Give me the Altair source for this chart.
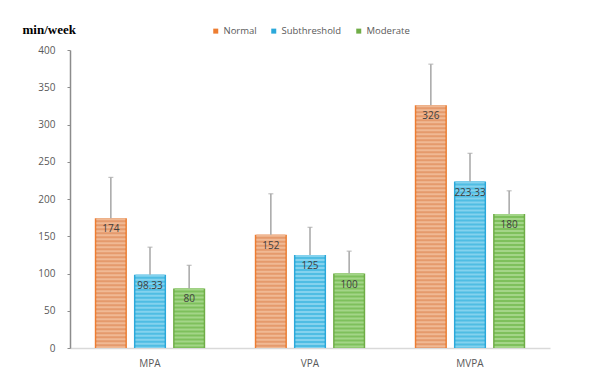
import altair as alt
import pandas as pd

categories = ["MPA", "VPA", "MVPA"]
groups = ["Normal", "Subthreshold", "Moderate"]
normal = [174, 152, 326]
subthreshold = [98.33, 125, 223.33]
moderate = [80, 100, 180]
err_normal = [55, 55, 55]
err_sub = [37, 37, 38]
err_mod = [31, 30, 31]
labels_normal = ["174", "152", "326"]
labels_sub = ["98.33", "125", "223.33"]
labels_mod = ["80", "100", "180"]
y_ticks = [0, 50, 100, 150, 200, 250, 300, 350, 400]

rows = []
for g, vals, errs, labs in [
    ("Normal", normal, err_normal, labels_normal),
    ("Subthreshold", subthreshold, err_sub, labels_sub),
    ("Moderate", moderate, err_mod, labels_mod),
]:
    for c, v, e, l in zip(categories, vals, errs, labs):
        rows.append({"cat": c, "group": g, "g2": g, "g3": g, "value": v,
                     "top": v + e, "label": l})
df = pd.DataFrame(rows)

border = ["#ED7D31", "#2BA8DA", "#70AD47"]
dark = ["#E59A6C", "#4FBDE3", "#7EC05C"]
light = ["#F0B994", "#84D2EE", "#A3D588"]

xaxis = alt.Axis(labelAngle=0, ticks=False, domainColor="#D9D9D9",
                 domainWidth=1.5, labelPadding=10, labelFontSize=10,
                 labelColor="#595959", labelFont="Open Sans")
xscale = alt.Scale(paddingInner=0.31, paddingOuter=0.155)
xs = alt.X("cat:N", sort=categories, title=None, scale=xscale, axis=xaxis)
xoff = alt.XOffset("group:N", sort=groups,
                   scale=alt.Scale(paddingInner=0.18, paddingOuter=0))
yscale = alt.Scale(domain=[0, 400])
yaxis = alt.Axis(values=y_ticks, grid=False, labelOverlap=False,
                 domainColor="#8C8C8C", domainWidth=1.5,
                 tickColor="#8C8C8C", tickSize=3, labelPadding=12,
                 labelFontSize=10, labelColor="#595959", labelFont="Open Sans",
                 title="min/week", titleAngle=0, titleX=-48, titleY=-17,
                 titleAlign="left", titleBaseline="alphabetic",
                 titleFont="Liberation Serif", titleFontSize=13,
                 titleFontWeight="bold", titleColor="#000000")


def yenc(field):
    return alt.Y(field, scale=yscale, axis=yaxis)


base = alt.Chart(df)

bars = base.mark_bar().encode(
    x=xs,
    xOffset=xoff,
    y=yenc("value:Q"),
    color=alt.Color("group:N", sort=groups,
                    scale=alt.Scale(domain=groups, range=border),
                    legend=alt.Legend(title=None, orient="none", direction="horizontal",
                                      legendX=141, legendY=-24, symbolType="square",
                                      symbolSize=25, labelFontSize=9.5,
                                      labelOffset=3, labelColor="#595959",
                                      labelFont="Open Sans", columnPadding=12)),
)

fill_rule = base.mark_rule(strokeWidth=29, strokeCap="butt").encode(
    x=xs,
    xOffset=xoff,
    y=yenc("value:Q"),
    y2=alt.datum(0),
    stroke=alt.Stroke("g2:N", sort=groups,
                      scale=alt.Scale(domain=groups, range=dark), legend=None),
)

stripes = base.mark_rule(strokeWidth=29, strokeDash=[2, 2], strokeCap="butt").encode(
    x=xs,
    xOffset=xoff,
    y=yenc("value:Q"),
    y2=alt.datum(0),
    stroke=alt.Stroke("g3:N", sort=groups,
                      scale=alt.Scale(domain=groups, range=light), legend=None),
)

err = base.mark_rule(color="#A6A6A6", strokeWidth=1.5).encode(
    x=xs,
    xOffset=xoff,
    y=yenc("value:Q"),
    y2="top:Q",
)

caps = base.mark_tick(color="#A6A6A6", thickness=1.2, size=5, orient="horizontal").encode(
    x=xs,
    xOffset=xoff,
    y=yenc("top:Q"),
)

text = base.mark_text(baseline="top", dy=6, fontSize=10, color="#404040",
                      font="Open Sans").encode(
    x=xs,
    xOffset=xoff,
    y=yenc("value:Q"),
    text="label:N",
)

chart = alt.layer(bars, fill_rule, stripes, err, caps, text).resolve_scale(
    stroke="independent"
).properties(
    width=480,
    height=298,
    padding={"left": 62, "top": 42, "right": 30, "bottom": 20},
    autosize=alt.AutoSizeParams(type="none"),
).configure_view(stroke=None)

chart.save("out.html", embed_options={"renderer": "svg", "actions": False})
